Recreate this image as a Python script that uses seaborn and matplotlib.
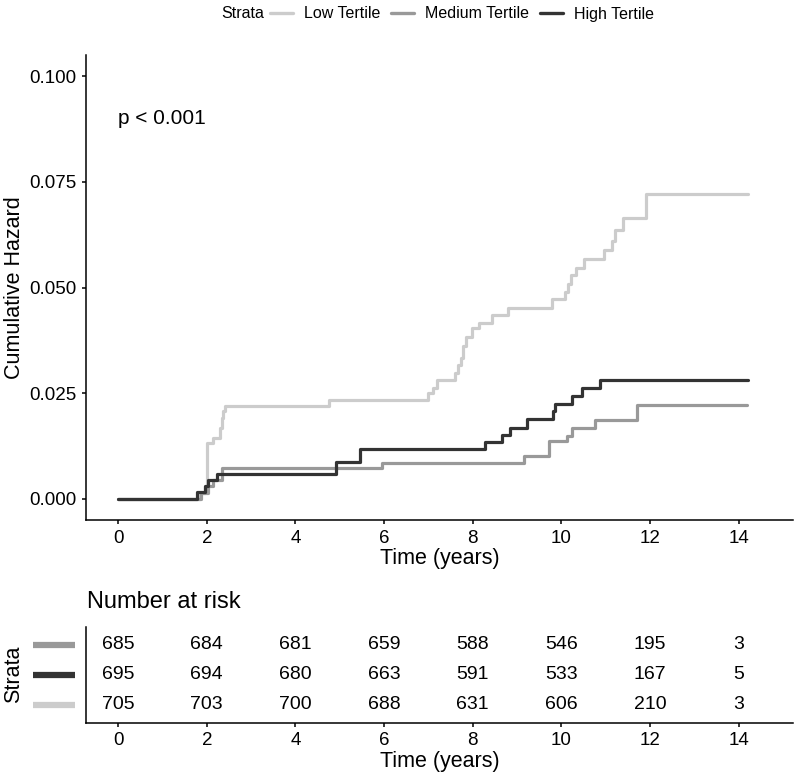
import numpy as np
import pandas as pd
import matplotlib
matplotlib.use("Agg")
import matplotlib.pyplot as plt
import matplotlib.transforms as mtransforms
from matplotlib.lines import Line2D
import seaborn as sns

# ---- data ----
strata_names = ["Low Tertile", "Medium Tertile", "High Tertile"]
strata_colors = ["#cccccc", "#999999", "#333333"]

low_time = [0, 1.85, 1.96, 2.01, 2.14, 2.30, 2.34, 2.37, 2.42, 4.76, 7.00, 7.11, 7.20,
            7.60, 7.67, 7.74, 7.79, 7.85, 7.98, 8.13, 8.43, 8.80, 9.78, 10.08, 10.14,
            10.21, 10.33, 10.50, 10.96, 11.14, 11.21, 11.39, 11.91, 14.2]
low_hazard = [0, 0.0014, 0.0029, 0.0131, 0.0145, 0.0168, 0.0192, 0.0208, 0.0219, 0.0234,
              0.0251, 0.0262, 0.0282, 0.0298, 0.0317, 0.0333, 0.0361, 0.0384, 0.0404,
              0.0415, 0.0435, 0.0452, 0.0473, 0.0490, 0.0509, 0.0529, 0.0546, 0.0567,
              0.0588, 0.0611, 0.0635, 0.0665, 0.0721, 0.0721]

med_time = [0, 1.88, 2.02, 2.15, 2.35, 5.95, 9.16, 9.73, 10.12, 10.23, 10.76, 11.70, 14.18]
med_hazard = [0, 0.0015, 0.0030, 0.0045, 0.0072, 0.0086, 0.0102, 0.0136, 0.0149, 0.0168,
              0.0186, 0.0222, 0.0222]

high_time = [0, 1.77, 1.95, 2.03, 2.23, 4.91, 5.45, 8.28, 8.65, 8.84, 9.22, 9.81, 9.85,
             10.23, 10.46, 10.86, 14.22]
high_hazard = [0, 0.0016, 0.0030, 0.0045, 0.0058, 0.0088, 0.0118, 0.0135, 0.0151, 0.0168,
               0.0188, 0.0208, 0.0225, 0.0243, 0.0262, 0.0281, 0.0281]

risk_times = [0, 2, 4, 6, 8, 10, 12, 14]
risk_medium = [685, 684, 681, 659, 588, 546, 195, 3]
risk_high = [695, 694, 680, 663, 591, 533, 167, 5]
risk_low = [705, 703, 700, 688, 631, 606, 210, 3]

# long table for seaborn
df = pd.concat([
    pd.DataFrame({"time": low_time, "hazard": low_hazard, "Strata": "Low Tertile"}),
    pd.DataFrame({"time": med_time, "hazard": med_hazard, "Strata": "Medium Tertile"}),
    pd.DataFrame({"time": high_time, "hazard": high_hazard, "Strata": "High Tertile"}),
], ignore_index=True)
palette = dict(zip(strata_names, strata_colors))

# ---- style ----
sns.set_style("ticks")
plt.rcParams["font.family"] = ["Liberation Sans", "DejaVu Sans"]
plt.rcParams["axes.linewidth"] = 1.1
plt.rcParams["xtick.major.width"] = 1.1
plt.rcParams["ytick.major.width"] = 1.1
plt.rcParams["xtick.major.size"] = 3
plt.rcParams["ytick.major.size"] = 3
plt.rcParams["xtick.color"] = "black"
plt.rcParams["ytick.color"] = "black"
plt.rcParams["text.color"] = "black"
plt.rcParams["axes.labelcolor"] = "black"
plt.rcParams["axes.edgecolor"] = "black"

W, H = 796, 778
fig = plt.figure(figsize=(W / 100, H / 100), dpi=100)

ax = fig.add_axes([86 / W, 1 - 520 / H, 707 / W, 465 / H])
ax_r = fig.add_axes([86 / W, 1 - 722.7 / H, 707 / W, 96 / H])

# ---- cumulative hazard curves ----
sns.lineplot(data=df, x="time", y="hazard", hue="Strata", hue_order=strata_names,
             palette=palette, estimator=None, sort=True, drawstyle="steps-post",
             linewidth=2.3, legend=False, ax=ax)

ax.set_xlim(-0.725, 15.225)
ax.set_ylim(-0.005, 0.105)
ax.set_xticks(risk_times)
ax.set_yticks([0, 0.025, 0.05, 0.075, 0.1])
ax.set_yticklabels(["0.000", "0.025", "0.050", "0.075", "0.100"])
ax.tick_params(labelsize=13.5, pad=4)
ax.set_xlabel("Time (years)", fontsize=15.5, labelpad=1)
ax.set_ylabel("Cumulative Hazard", fontsize=15.5)
ax.yaxis.set_label_coords(-0.086, 0.5)
ax.text(0, 0.090, "p < 0.001", fontsize=15, ha="left", va="center")
sns.despine(ax=ax)

# legend on top
fig.text(221 / W, 1 - 14 / H, "Strata", fontsize=11.5, ha="left", va="center")
handles = [Line2D([], [], color=c, lw=2.4) for c in strata_colors]
fig.legend(handles, strata_names, loc="center left", bbox_to_anchor=(270 / W, 1 - 14 / H),
           ncol=3, frameon=False, fontsize=11.5, handlelength=1.45, handletextpad=0.7,
           columnspacing=0.65, borderpad=0, borderaxespad=0)

# ---- number at risk table ----
rows = [(3, risk_medium, strata_colors[1]),
        (2, risk_high, strata_colors[2]),
        (1, risk_low, strata_colors[0])]
trans = mtransforms.blended_transform_factory(ax_r.transAxes, ax_r.transData)
for ypos, counts, col in rows:
    for t, n in zip(risk_times, counts):
        ax_r.text(t, ypos, str(n), ha="center", va="center", fontsize=14)
    ax_r.plot([-0.075, -0.0156], [ypos, ypos], color=col, lw=4.5,
              solid_capstyle="butt", transform=trans, clip_on=False)

ax_r.set_xlim(-0.725, 15.225)
ax_r.set_ylim(0.4, 3.6)
ax_r.set_xticks(risk_times)
ax_r.set_yticks([])
ax_r.tick_params(labelsize=13.5, pad=4)
ax_r.set_xlabel("Time (years)", fontsize=15.5, labelpad=1)
ax_r.set_ylabel("Strata", fontsize=15.5)
ax_r.yaxis.set_label_coords(-0.088, 0.5)
sns.despine(ax=ax_r)
fig.text(87 / W, 1 - 601.7 / H, "Number at risk", fontsize=17, ha="left", va="center")

fig.savefig("out.png", dpi=100)
